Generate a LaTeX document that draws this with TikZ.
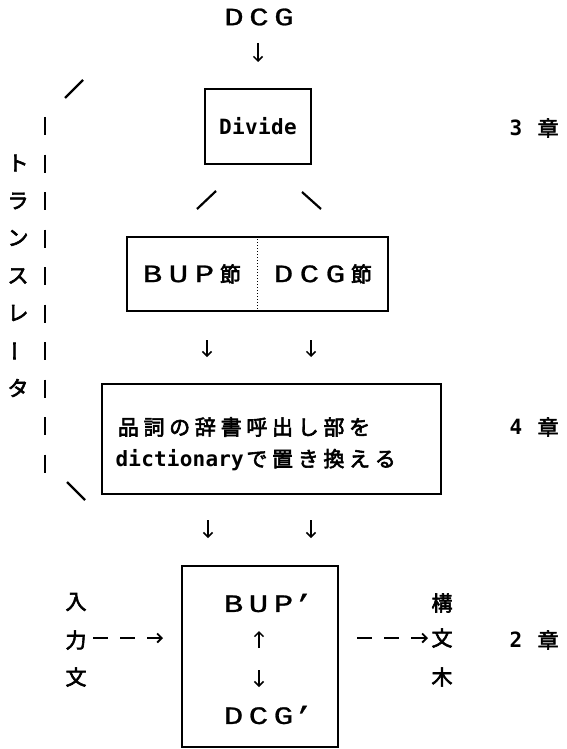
\documentclass[tikz,border=0pt]{standalone}
\usepackage{fontspec}
\usetikzlibrary{arrows.meta}
\newfontfamily\jpf{Noto Sans CJK JP}[FakeBold=2.8]
\newfontfamily\fwf{Liberation Mono}[FakeStretch=1.3,FakeBold=1.0]
\newfontfamily\hwf{DejaVu Sans Mono}
\newcommand\myjp{\jpf\fontsize{21pt}{24pt}\selectfont}
\newcommand\myfw{\fwf\fontsize{25pt}{25pt}\selectfont}
\newcommand\myhw{\hwf\bfseries\fontsize{21pt}{24pt}\selectfont}
\newlength\cellw
\makeatletter
\def\spreadtxt#1#2{\setlength\cellw{#1}\spread@i#2\relax}
\def\spread@i#1{\ifx#1\relax\else\makebox[\cellw]{#1}\expandafter\spread@i\fi}
\makeatother
\tikzset{
  box/.style={draw, line width=1.6pt, inner sep=0pt},
  txt/.style={inner sep=0pt, outer sep=0pt},
  jp/.style={txt, font=\myjp},
  fwtxt/.style={txt, font=\myfw},
  hw/.style={txt, font=\myhw},
  arr/.style={line width=1.5pt, -{Straight Barb[length=4.5pt,width=9pt]}},
  darr/.style={line width=1.8pt, dash pattern=on 15pt off 12pt, -{Straight Barb[length=4.5pt,width=9pt]}},
  slash/.style={line width=2.2pt},
  bar/.style={line width=1.8pt, dash pattern=on 18pt off 19.5pt},
  divline/.style={line width=1pt, dotted},
}
\begin{document}
\begin{tikzpicture}[x=1pt,y=-1pt]
\useasboundingbox (0,0) rectangle (567,749);
\fill[white] (0,0) rectangle (567,749);

% top
\node[fwtxt] (dcg) at (259,17) {\spreadtxt{25pt}{DCG}};
\coordinate (a0s) at (258,43); \coordinate (a0e) at (258,62);
\draw[arr] (a0s) -- (a0e);

\node[box, hw, minimum width=106pt, minimum height=75pt] (divide) at (258,126.5) {\spreadtxt{13pt}{Divide}};

\coordinate (s1a) at (197,209); \coordinate (s1b) at (216,191);
\coordinate (s2a) at (302,192); \coordinate (s2b) at (321,209);
\draw[slash] (s1a) -- (s1b);
\draw[slash] (s2a) -- (s2b);

% BUP / DCG box
\node[box, minimum width=261pt, minimum height=74pt] (bup) at (257.5,274) {};
\draw[divline] (bup.north) -- (bup.south);
\node[txt] (bupl) at (191.5,274) {{\myfw\spreadtxt{26pt}{BUP}}{\myjp\makebox[26pt]{節}}};
\node[txt] (dcgr) at (322.5,274) {{\myfw\spreadtxt{26pt}{DCG}}{\myjp\makebox[26pt]{節}}};

\coordinate (a1s) at (207,340); \coordinate (a1e) at (207,357);
\coordinate (a2s) at (311,340); \coordinate (a2e) at (311,357);
\draw[arr] (a1s) -- (a1e);
\draw[arr] (a2s) -- (a2e);

% dictionary box
\node[box, minimum width=339pt, minimum height=110pt] (dict) at (271.5,439) {};
\node[txt, anchor=west] (d1) at (115.5,427) {\myjp\spreadtxt{25.7pt}{品詞の辞書呼出し部を}};
\node[txt, anchor=west] (d2) at (115.5,460) {{\myhw\spreadtxt{12.85pt}{dictionary}}{\myjp\spreadtxt{25.7pt}{で置き換える}}};

\coordinate (a3s) at (208,520); \coordinate (a3e) at (208,538);
\coordinate (a4s) at (311,520); \coordinate (a4e) at (311,538);
\draw[arr] (a3s) -- (a3e);
\draw[arr] (a4s) -- (a4e);

% core box
\node[box, minimum width=156pt, minimum height=181pt] (core) at (260,656.5) {};
\node[txt, anchor=west] (bupp) at (221,603) {\myfw\spreadtxt{25pt}{BUP}\makebox[15pt]{’}};
\node[txt, anchor=west] (dcgp) at (221,715) {\myfw\spreadtxt{25pt}{DCG}\makebox[15pt]{’}};
\coordinate (upS) at (259,648); \coordinate (upE) at (259,631);
\coordinate (dnS) at (259,670); \coordinate (dnE) at (259,687);
\draw[arr] (upS) -- (upE);
\draw[arr] (dnS) -- (dnE);

% input
\node[jp] (in1) at (76,602) {入};
\node[jp] (in2) at (76,640) {力};
\node[jp] (in3) at (76,677) {文};
\coordinate (ldS) at (93,638); \coordinate (ldE) at (163,638);
\draw[darr] (ldS) -- (ldE);

% output
\node[jp] (out1) at (442,603) {構};
\node[jp] (out2) at (442,638) {文};
\node[jp] (out3) at (442,677) {木};
\coordinate (rdS) at (357,638); \coordinate (rdE) at (428,638);
\draw[darr] (rdS) -- (rdE);

% chapters
\node[txt] (ch3) at (535.3,128) {{\myhw\makebox[12.85pt]{3}}\hspace{12.85pt}{\myjp\makebox[25.7pt]{章}}};
\node[txt] (ch4) at (535.3,427) {{\myhw\makebox[12.85pt]{4}}\hspace{12.85pt}{\myjp\makebox[25.7pt]{章}}};
\node[txt] (ch2) at (535.3,640) {{\myhw\makebox[12.85pt]{2}}\hspace{12.85pt}{\myjp\makebox[25.7pt]{章}}};

% translator bracket
\node[jp] (k1) at (18,163) {ト};
\node[jp] (k2) at (18,201) {ラ};
\node[jp] (k3) at (18,238) {ン};
\node[jp] (k4) at (18,276) {ス};
\node[jp] (k5) at (18,313) {レ};
\node[jp, rotate=90] (k6) at (18,351) {ー};
\node[jp] (k7) at (18,388) {タ};
\coordinate (brT) at (45,117); \coordinate (brB) at (45,472.5);
\draw[bar] (brT) -- (brB);
\coordinate (t1a) at (65,98); \coordinate (t1b) at (83,80);
\coordinate (t2a) at (67,482); \coordinate (t2b) at (85,500);
\draw[slash] (t1a) -- (t1b);
\draw[slash] (t2a) -- (t2b);
\end{tikzpicture}
\end{document}
